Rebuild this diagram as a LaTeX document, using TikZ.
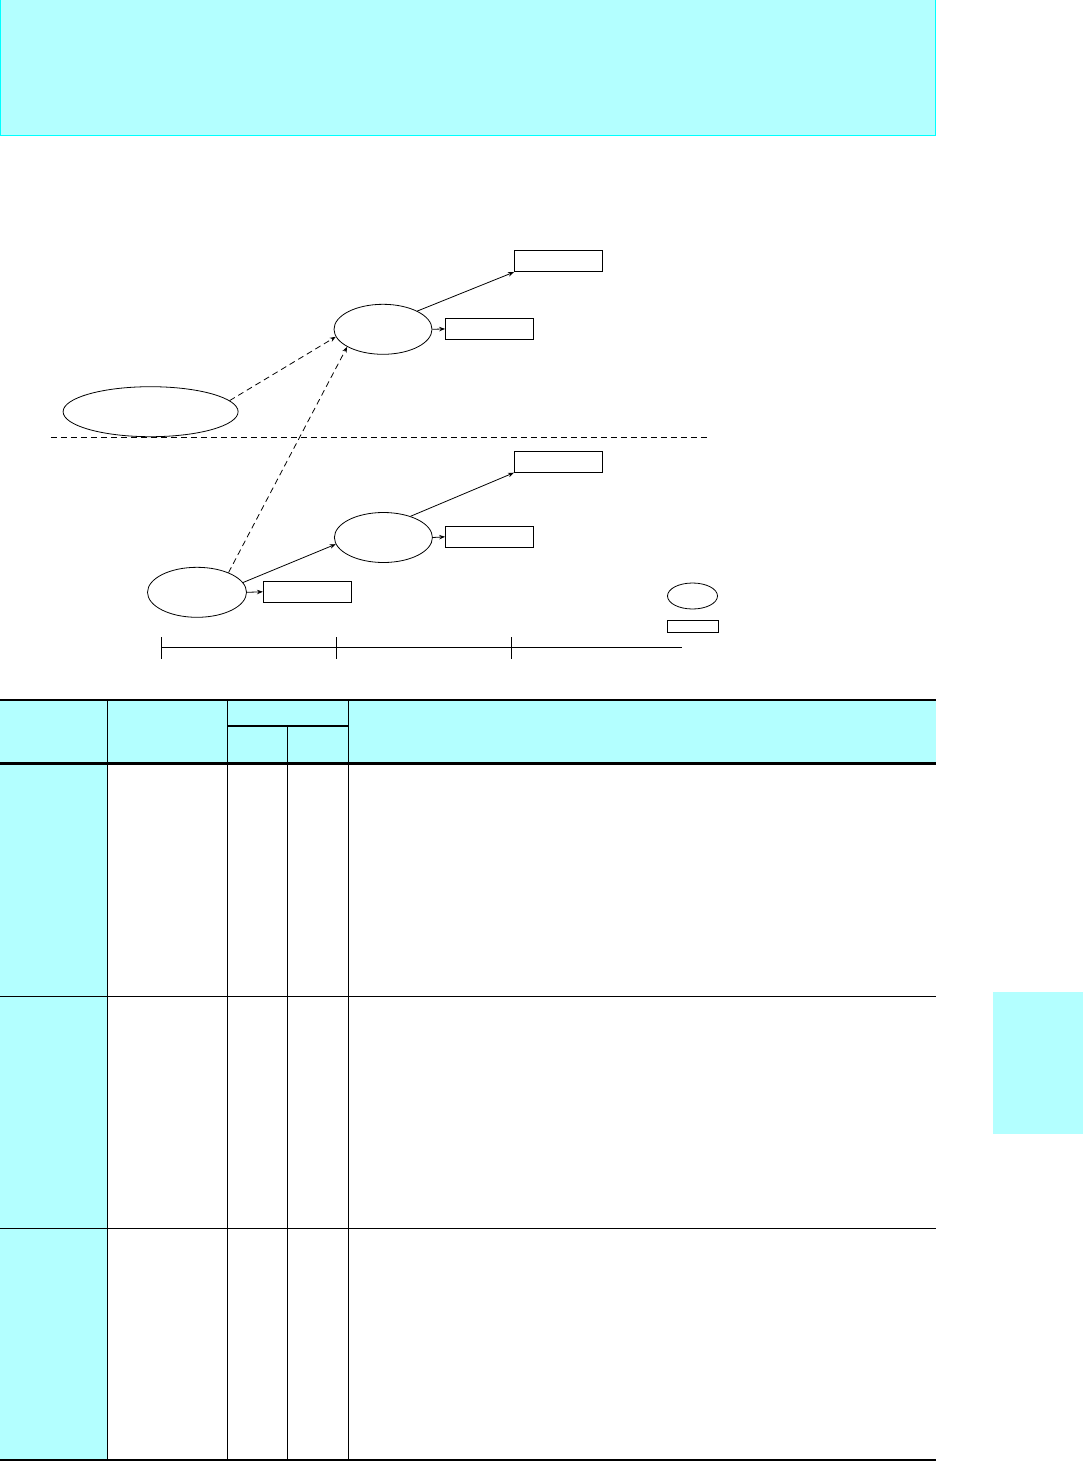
\documentclass[tikz,border=0pt]{standalone}
\usetikzlibrary{arrows.meta,shapes.geometric}
\definecolor{lcyan}{HTML}{B3FFFF}
\definecolor{bcyan}{HTML}{00FFFF}
\begin{document}
\begin{tikzpicture}[x=1pt,y=-1pt,
  ell/.style={draw,line width=0.8pt,ellipse,inner sep=0pt},
  bx/.style={draw,line width=0.8pt,rectangle,inner sep=0pt,minimum width=88pt,minimum height=21pt},
  arr/.style={line width=0.8pt,-{Stealth[length=6pt,width=4.5pt]}},
  darr/.style={arr,dash pattern=on 6pt off 4pt},
  tline/.style={line width=0.9pt},
  thick line/.style={line width=2.6pt}]
\useasboundingbox (0,0) rectangle (1083,1461);
% top banner
\filldraw[fill=lcyan,draw=bcyan,line width=1.2pt] (0.6,-2) rectangle (935.6,135.6);
% right tab
\fill[lcyan] (993,992) rectangle (1083,1134);
% diagram nodes
\node[ell,minimum width=98pt,minimum height=50pt] (e1) at (383,329.3) {};
\node[ell,minimum width=175pt,minimum height=50pt] (e0) at (150.6,411.7) {};
\node[ell,minimum width=98pt,minimum height=50pt] (e2) at (383.4,537.5) {};
\node[ell,minimum width=99pt,minimum height=50pt] (e3) at (197,592.3) {};
\node[ell,minimum width=50pt,minimum height=26pt] (le) at (692.5,596) {};
\node[bx] (b1) at (558.4,261.2) {};
\node[bx] (b2) at (489.5,328.9) {};
\node[bx] (b3) at (558.4,461.8) {};
\node[bx] (b4) at (489.5,536.8) {};
\node[bx] (b5) at (307.3,591.8) {};
\node[draw,line width=0.8pt,inner sep=0pt,minimum width=51pt,minimum height=11.5pt] (lb) at (693.2,626.5) {};
% connectors
\draw[arr] (e1.28) -- (b1.south west);
\draw[arr] (e1.east) -- (b2.west);
\draw[darr] (e0.8) -- (e1.189);
\draw[darr] (e3.32) -- (e1.206);
\draw[arr] (e2.38) -- (b3.south west);
\draw[arr] (e2.east) -- (b4.west);
\draw[arr] (e3.12) -- (e2.188);
\draw[arr] (e3.east) -- (b5.west);
% dashed divider
\coordinate (dl) at (50.8,437.3);
\coordinate (dr) at (707.8,437.3);
\draw[line width=0.8pt,dash pattern=on 6pt off 4pt] (dl) -- (dr);
% timeline
\coordinate (t0) at (161.4,647.3);
\coordinate (t3) at (681.8,647.3);
\draw[line width=0.8pt] (t0) -- (t3);
\foreach \x in {161.4,336.6,511.4} \draw[line width=0.8pt] (\x,637.3) -- (\x,659.3);
% table
\fill[lcyan] (0,700) rectangle (936,763.5);
\fill[lcyan] (0,763.5) rectangle (107.3,1460);
\draw[line width=1.6pt] (227.3,726) -- (348.3,726);
\foreach \x in {107.3,348.3} \draw[tline] (\x,700) -- (\x,1460);
\draw[tline] (227.3,700) -- (227.3,1460);
\draw[tline] (287.3,726) -- (287.3,1460);
\draw[tline] (0,996) -- (936,996);
\draw[tline] (0,1228.3) -- (936,1228.3);
\draw[thick line] (0,700) -- (936,700);
\draw[thick line] (0,763.5) -- (936,763.5);
\draw[thick line] (0,1460) -- (936,1460);
\end{tikzpicture}
\end{document}
